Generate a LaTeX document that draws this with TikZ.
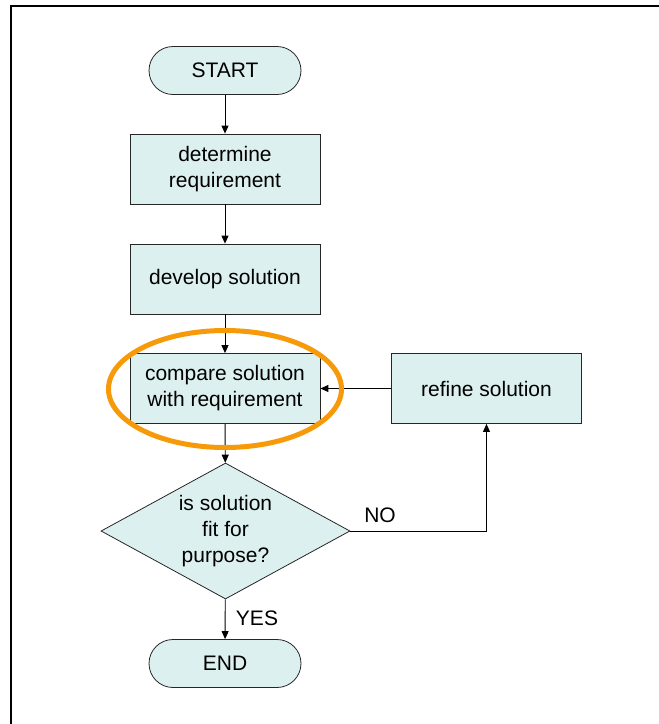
\documentclass[tikz,border=0pt]{standalone}
\usepackage{fontspec}
\setmainfont{Liberation Sans}
\usetikzlibrary{shapes.geometric,arrows.meta}
\definecolor{boxfill}{HTML}{DDF0F0}
\definecolor{ringcol}{HTML}{F79A0A}
\tikzset{
  every node/.style={font=\fontsize{21}{26}\selectfont, align=center},
  base/.style={draw=black!85, line width=0.8pt, fill=boxfill, inner sep=0pt},
  stepbox/.style={base, rectangle, minimum width=190pt, minimum height=70pt},
  terminal/.style={base, rectangle, rounded corners=24pt, minimum width=152pt, minimum height=48pt},
  decision/.style={base, diamond, minimum width=249pt, minimum height=136pt},
  flow/.style={line width=0.9pt, -{Triangle[length=8pt,width=7pt]}},
  tag/.style={inner sep=0pt}
}
\begin{document}
\begin{tikzpicture}[x=1pt, y=-1pt]
  \useasboundingbox (0,0) rectangle (659,724);
  % outer frame (left and top edges)
  \draw[line width=2pt] (11,724) -- (11,6) -- (659,6);

  % process nodes
  \node[terminal] (start) at (225,70.5) {START};
  \node[stepbox] (req) at (225,169) {determine\\requirement};
  \node[stepbox] (dev) at (225,279) {develop solution};
  \node[stepbox] (cmp) at (225,388.5) {compare solution\\with requirement};
  \node[stepbox] (ref) at (486.5,388.5) {refine solution};
  \node[decision] (fit) at (225.5,531) {};
  \node[tag] (fittext) at (fit.center) {is solution\\fit for\\purpose?};
  \node[terminal] (stop) at (225,663.5) {END};

  % connectors
  \draw[flow] (start) -- (req);
  \draw[flow] (req) -- (dev);
  \draw[flow] (dev) -- (cmp);
  \draw[flow] (cmp) -- (fit);
  \draw[flow] (fit) -- (stop);
  \draw[flow] (fit.east) -| (ref.south);
  \draw[flow] (ref) -- (cmp);

  % branch labels
  \node[tag] (lblno) at (380,515) {NO};
  \node[tag] (lblyes) at (257,618) {YES};

  % highlight ring around the comparison step
  \draw[ringcol, line width=5pt] (225,389) ellipse [x radius=116.5pt, y radius=58.5pt];
\end{tikzpicture}
\end{document}
